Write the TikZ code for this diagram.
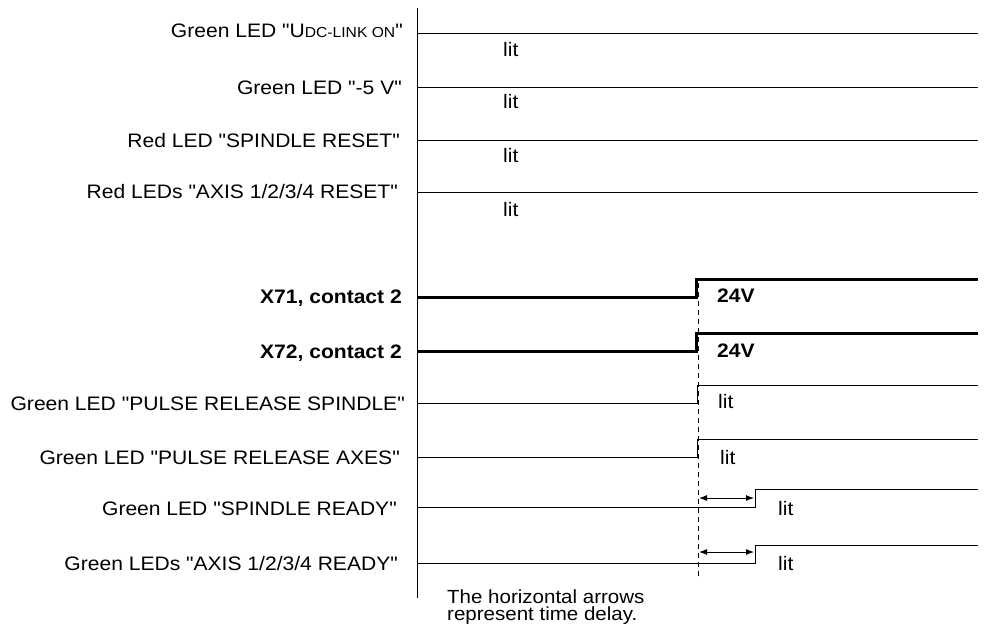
\documentclass[tikz,border=0pt]{standalone}
\usepackage{fontspec}
\setmainfont{Liberation Sans}[FakeStretch=1.08, Ligatures=TeXOff]
\usetikzlibrary{arrows.meta}
\begin{document}
\begin{tikzpicture}[x=1pt,y=-1pt,
  lbl/.style={font=\fontsize{19.5}{22}\selectfont, inner sep=0pt},
  blbl/.style={lbl, font=\fontsize{19.5}{22}\selectfont\bfseries},
  sig/.style={line width=1pt, black},
  thick sig/.style={line width=3pt, black},
  axisline/.style={line width=1pt, black},
  dashline/.style={line width=1pt, dash pattern=on 5pt off 4pt},
  delay/.style={line width=1pt, {Latex[length=8pt,width=6pt]}-{Latex[length=8pt,width=6pt]}}]
\useasboundingbox (0,0) rectangle (984,632);

% axis
\coordinate (axtop) at (417,8);
\coordinate (axbot) at (417,598);
\draw[axisline] (axtop) -- (axbot);

% labels
\node[lbl, anchor=base east] (l1) at (403,37) {Green LED "U{\fontsize{14.5}{15}\selectfont DC-LINK ON}"};
\node[lbl, anchor=base east] (l2) at (402,94) {Green LED "-5 V"};
\node[lbl, anchor=base east] (l3) at (400,147) {Red LED "SPINDLE RESET"};
\node[lbl, anchor=base east] (l4) at (398,198) {Red LEDs "AXIS 1/2/3/4 RESET"};
\node[blbl, anchor=base east] (l5) at (402,303) {X71, contact 2};
\node[blbl, anchor=base east] (l6) at (402,358) {X72, contact 2};
\node[lbl, anchor=base east] (l7) at (405,410) {Green LED "PULSE RELEASE SPINDLE"};
\node[lbl, anchor=base east] (l8) at (400,464) {Green LED "PULSE RELEASE AXES"};
\node[lbl, anchor=base east] (l9) at (397,515) {Green LED "SPINDLE READY"};
\node[lbl, anchor=base east] (l10) at (398,570) {Green LEDs "AXIS 1/2/3/4 READY"};

% top four signals (constantly lit)
\draw[sig] (417,33) -- (978,33);
\draw[sig] (417,87) -- (978,87);
\draw[sig] (417,140) -- (978,140);
\draw[sig] (417,192) -- (978,192);
\node[lbl, anchor=base west] (lit1) at (503,56) {lit};
\node[lbl, anchor=base west] (lit2) at (503,108) {lit};
\node[lbl, anchor=base west] (lit3) at (503,162) {lit};
\node[lbl, anchor=base west] (lit4) at (503,216) {lit};

% dashed reference line
\coordinate (dtop) at (698,283);
\coordinate (dbot) at (698,580);
\draw[dashline] (dtop) -- (dbot);

% X71 / X72
\draw[thick sig] (417,297) -- (696,297) -- (696,279) -- (978,279);
\draw[thick sig] (417,351) -- (696,351) -- (696,333) -- (978,333);
\node[blbl, anchor=base west] (v1) at (717,302) {24V};
\node[blbl, anchor=base west] (v2) at (717,357) {24V};

% pulse release
\draw[sig] (417,403) -- (697,403) -- (697,385) -- (978,385);
\draw[sig] (417,457) -- (697,457) -- (697,439) -- (978,439);
\node[lbl, anchor=base west] (lit5) at (718,408) {lit};
\node[lbl, anchor=base west] (lit6) at (720,464) {lit};

% ready with delay
\draw[sig] (417,507) -- (755,507) -- (755,489) -- (978,489);
\draw[sig] (417,563) -- (755,563) -- (755,545) -- (978,545);
\coordinate (d1a) at (699,498);
\coordinate (d1b) at (754,498);
\coordinate (d2a) at (699,552);
\coordinate (d2b) at (754,552);
\draw[delay] (d1a) -- (d1b);
\draw[delay] (d2a) -- (d2b);
\node[lbl, anchor=base west] (lit7) at (778,515) {lit};
\node[lbl, anchor=base west] (lit8) at (778,570) {lit};

% note
\node[lbl, font=\fontsize{19}{17}\selectfont, align=left, anchor=north west] (note) at (447,590) {The horizontal arrows\\represent time delay.};
\end{tikzpicture}
\end{document}
